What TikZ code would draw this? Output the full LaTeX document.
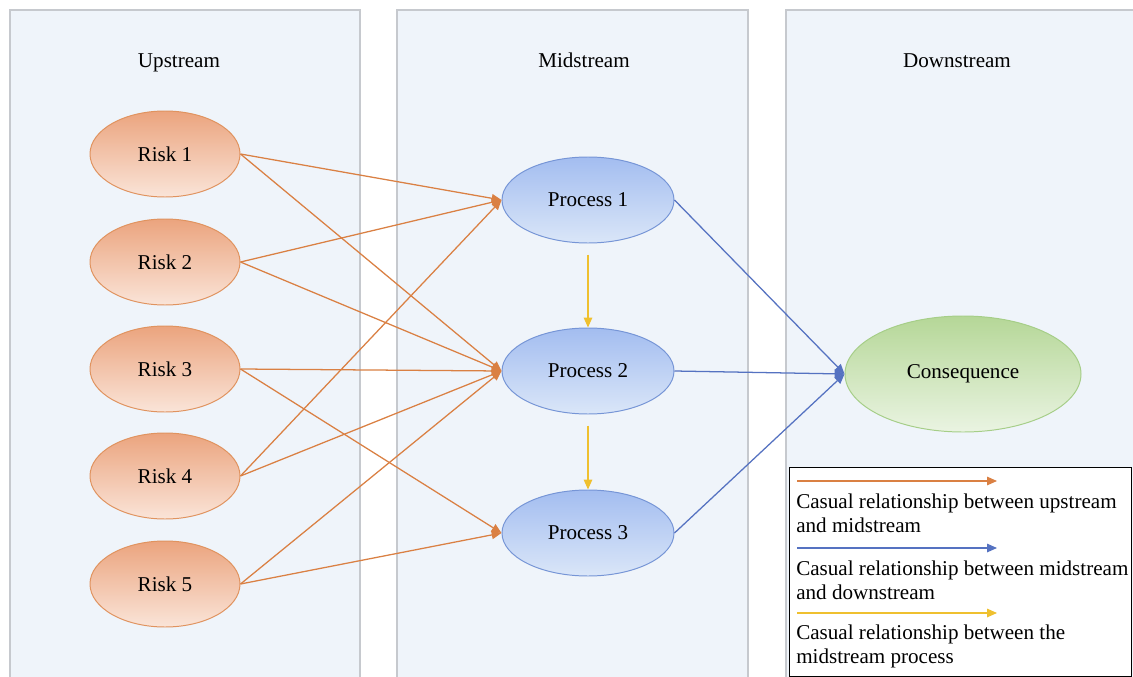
\documentclass[tikz,border=0pt]{standalone}
\usepackage{fontspec}
\setmainfont{Liberation Serif}
\usetikzlibrary{arrows.meta,shapes.geometric}
\definecolor{panelfill}{HTML}{EFF4FA}
\definecolor{panelline}{HTML}{C6C9CE}
\definecolor{upline}{HTML}{DA8043}
\definecolor{midline}{HTML}{5572C1}
\definecolor{procline}{HTML}{EFC02F}
\definecolor{risktop}{HTML}{EBA47E}
\definecolor{riskbot}{HTML}{FAE4D8}
\definecolor{riskline}{HTML}{E0935F}
\definecolor{proctop}{HTML}{A3BDF0}
\definecolor{procbot}{HTML}{DAE6F8}
\definecolor{procedge}{HTML}{7695D6}
\definecolor{constop}{HTML}{B5D797}
\definecolor{consbot}{HTML}{EAF4E2}
\definecolor{consline}{HTML}{A6CE88}
\begin{document}
\begin{tikzpicture}[x=0.025cm,y=-0.025cm,
    every node/.style={font=\fontsize{15}{17}\selectfont},
    panel/.style={draw=panelline,fill=panelfill,line width=0.8pt},
    risk/.style={ellipse,draw=riskline,line width=0.7pt,top color=risktop,bottom color=riskbot,minimum width=150*0.025cm,minimum height=86*0.025cm},
    proc/.style={ellipse,draw=procedge,line width=0.7pt,top color=proctop,bottom color=procbot,minimum width=172*0.025cm,minimum height=86*0.025cm},
    tip/.style={-{Triangle[length=7pt,width=6pt]},line width=0.9pt}]
  \clip (0,0) rectangle (1133,677);
  \fill[white] (0,0) rectangle (1133,677);
  % panels
  \draw[panel] (10,10) rectangle (360,690);
  \draw[panel] (397,10) rectangle (748,690);
  \draw[panel] (786,10) rectangle (1150,690);
  \draw
    (179,67) node[anchor=base] (up){Upstream}
    (584,67) node[anchor=base] (mid){Midstream}
    (957,67) node[anchor=base] (down){Downstream};
  % nodes
  \draw
    (165,154) node[risk] (r1){Risk 1}
    (165,262) node[risk] (r2){Risk 2}
    (165,369) node[risk] (r3){Risk 3}
    (165,476) node[risk] (r4){Risk 4}
    (165,584) node[risk] (r5){Risk 5}
    (588,200) node[proc] (p1){Process 1}
    (588,371) node[proc] (p2){Process 2}
    (588,533) node[proc] (p3){Process 3}
    (963,374) node[ellipse,draw=consline,line width=0.7pt,top color=constop,bottom color=consbot,minimum width=236*0.025cm,minimum height=116*0.025cm] (c){Consequence};
  \begin{scope}[tip,upline]
    \draw (r1.east) to (p1.west);
    \draw (r1.east) to (p2.west);
    \draw (r2.east) to (p1.west);
    \draw (r2.east) to (p2.west);
    \draw (r3.east) to (p2.west);
    \draw (r3.east) to (p3.west);
    \draw (r4.east) to (p1.west);
    \draw (r4.east) to (p2.west);
    \draw (r5.east) to (p2.west);
    \draw (r5.east) to (p3.west);
  \end{scope}
  \begin{scope}[tip,midline]
    \draw (p1.east) to (c.west);
    \draw (p2.east) to (c.west);
    \draw (p3.east) to (c.west);
  \end{scope}
  \begin{scope}[tip,procline,shorten <=8pt]
    \draw (p1.south) to (p2.north);
    \draw (p2.south) to (p3.north);
  \end{scope}
  % legend
  \draw[fill=white,line width=0.7pt] (789,467) rectangle (1131,676);
  \coordinate (a1) at (797,481);
  \coordinate (b1) at (997,481);
  \coordinate (a2) at (797,548);
  \coordinate (b2) at (997,548);
  \coordinate (a3) at (797,613);
  \coordinate (b3) at (997,613);
  \draw[tip,upline] (a1) to (b1);
  \draw[tip,midline] (a2) to (b2);
  \draw[tip,procline] (a3) to (b3);
  \draw
    (796,513) node[anchor=west,align=left,inner sep=0pt] (l1){Casual relationship between upstream\\and midstream}
    (796,580) node[anchor=west,align=left,inner sep=0pt] (l2){Casual relationship between midstream\\and downstream}
    (796,646) node[anchor=west,align=left,inner sep=0pt] (l3){Casual relationship between the\\midstream process};
\end{tikzpicture}
\end{document}
